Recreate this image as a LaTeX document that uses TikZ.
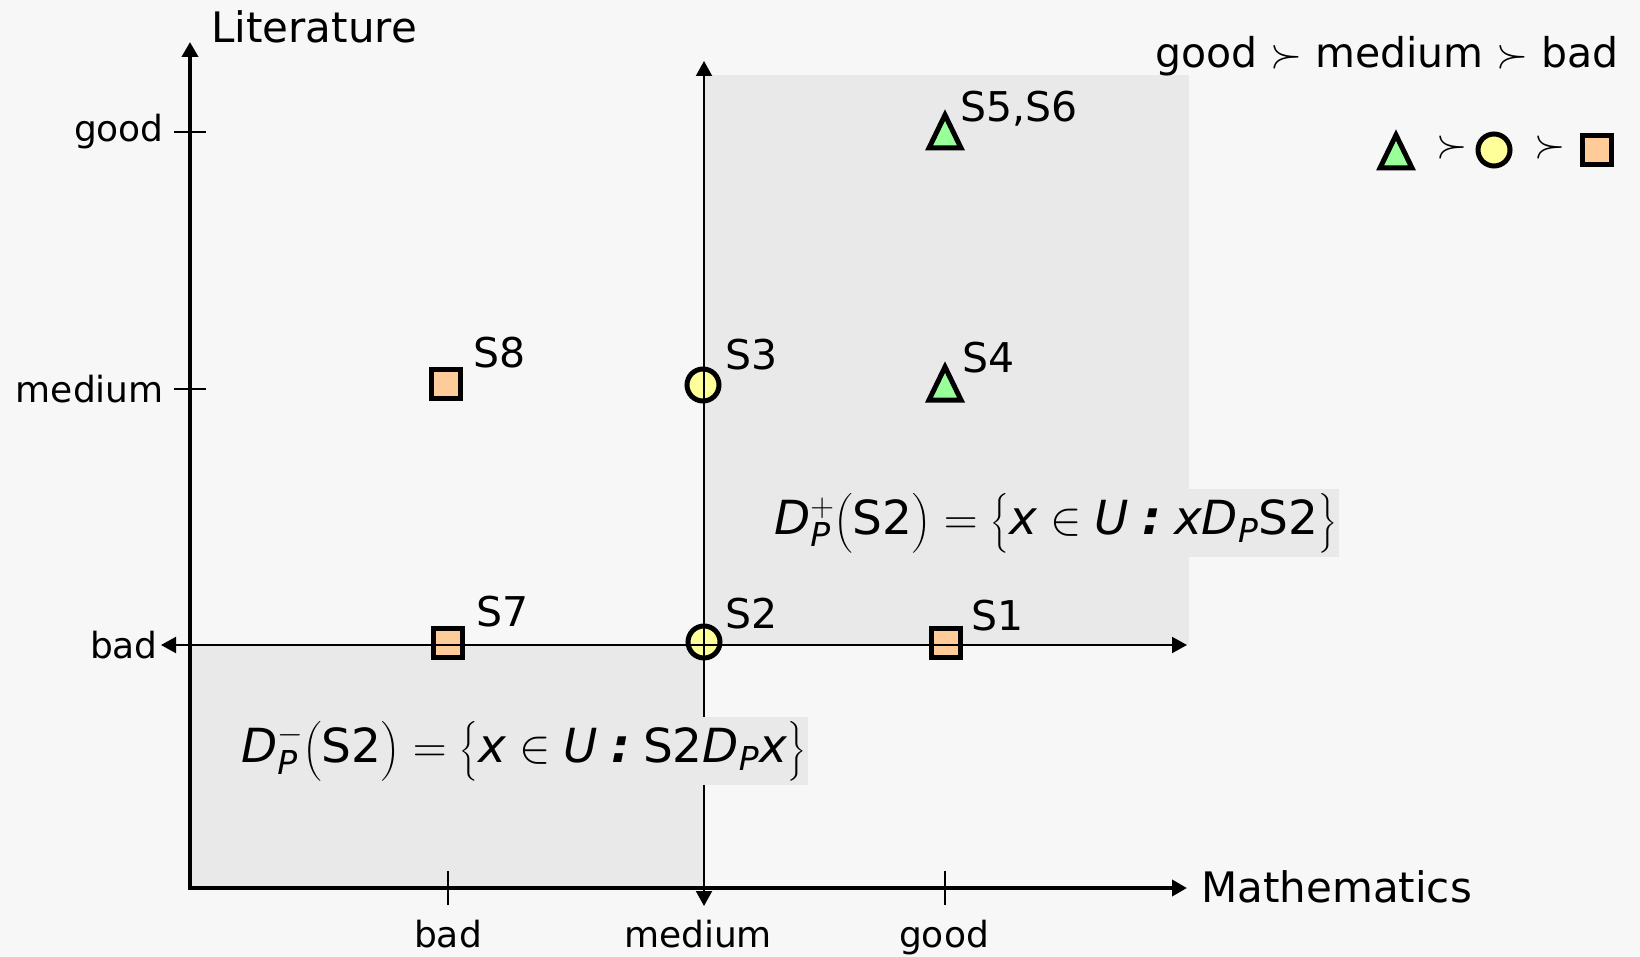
\RequirePackage{fix-cm}
\documentclass[tikz,border=0pt]{standalone}
\usepackage{amsmath}
\usepackage{fontspec}
\setmainfont{DejaVu Sans}
\usetikzlibrary{arrows.meta}
\definecolor{bg}{HTML}{F7F7F7}
\definecolor{reg}{HTML}{E9E9E9}
\definecolor{sqf}{HTML}{FFCC99}
\definecolor{cif}{HTML}{FFFF99}
\definecolor{trf}{HTML}{99FF99}
\newcommand{\fcolon}{\mathrel{\textbf{\textit{:}}}}
\begin{document}
\begin{tikzpicture}[x=1pt,y=-1pt,
  sq/.style={rectangle,draw=black,line width=5pt,fill=sqf,minimum size=29pt,inner sep=0pt},
  ci/.style={circle,draw=black,line width=5pt,fill=cif,minimum size=32pt,inner sep=0pt},
  trs/.style={draw=black,line width=5pt,fill=trf,line join=miter},
  lbl/.style={inner sep=0pt,anchor=base west,font=\fontsize{41}{48}\selectfont},
  tick/.style={inner sep=0pt,font=\fontsize{36}{43}\selectfont},
  title/.style={inner sep=0pt,anchor=base west,font=\fontsize{42}{50}\selectfont},
  formula/.style={fill=reg,inner xsep=2pt,inner ysep=0pt,anchor=east,minimum height=68pt,font=\fontsize{47}{54}\selectfont},
  thinaxis/.style={line width=2pt,{Triangle[length=15pt,width=16pt]}-{Triangle[length=15pt,width=16pt]}},
  thickaxis/.style={line width=4pt,line join=miter,{Triangle[length=15pt,width=16pt]}-{Triangle[length=15pt,width=16pt]}},
  tickline/.style={line width=2pt}
]
% background and regions
\fill[bg] (0,0) rectangle (1640,957);
\fill[reg] (704,75) rectangle (1189,645);
\fill[reg] (190,645) rectangle (704,888);

% axis coordinates
\coordinate (O) at (190,888);
\coordinate (ytop) at (190,42);
\coordinate (xend) at (1187,888);
\coordinate (mtop) at (704,61);
\coordinate (mbot) at (704,906);
\coordinate (hl) at (161,645);
\coordinate (hr) at (1187,645);

% markers
\node[sq] (s8) at (446,384) {};
\node[ci] (s3) at (703,385) {};
\node[sq] (s7) at (448,643) {};
\node[ci] (s2) at (704,642) {};
\node[sq] (s1) at (946,643) {};
\coordinate (s4) at (945,382);
\coordinate (s56) at (945,130);
\draw[trs] (s4) ++(0,-15) -- ++(16,33) -- ++(-32,0) -- cycle;
\draw[trs] (s56) ++(0,-15) -- ++(16,33) -- ++(-32,0) -- cycle;

% thin axes through S2
\draw[thinaxis] (mtop) -- (mbot);
\draw[thinaxis] (hl) -- (hr);

% main axes
\draw[thickaxis] (ytop) -- (O) -- (xend);

% ticks
\coordinate (tg1) at (174,132); \coordinate (tg2) at (206,132);
\coordinate (tm1) at (174,389); \coordinate (tm2) at (206,389);
\coordinate (tb1) at (448,871); \coordinate (tb2) at (448,905);
\coordinate (tx1) at (945,871); \coordinate (tx2) at (945,905);
\draw[tickline] (tg1) -- (tg2);
\draw[tickline] (tm1) -- (tm2);
\draw[tickline] (tb1) -- (tb2);
\draw[tickline] (tx1) -- (tx2);

% tick labels
\node[tick,anchor=east] (ygood) at (164,132) {good};
\node[tick,anchor=east] (ymed) at (164,389) {medium};
\node[tick,anchor=east] (ybad) at (158,645) {bad};
\node[tick,anchor=north] (xbad) at (448,920) {bad};
\node[tick,anchor=north] (xmed) at (698,920) {medium};
\node[tick,anchor=north] (xgood) at (944,920) {good};

% axis titles
\node[title] (lit) at (211,43) {Literature};
\node[title] (math) at (1201,902) {Mathematics};

% point labels
\node[lbl] (l8) at (473,367) {S8};
\node[lbl] (l3) at (725,369) {S3};
\node[lbl] (l4) at (962,372) {S4};
\node[lbl] (l56) at (960,122) {S5,S6};
\node[lbl] (l7) at (476,626) {S7};
\node[lbl] (l2) at (725,628) {S2};
\node[lbl] (l1) at (971,630) {S1};

% formulas
\node[formula] (dplus) at (1339,523)
  {$\mathit{D}^{+}_{\mathit{P}}\bigl(\mathrm{S2}\bigr) = \bigl\{\mathit{x} \in \mathit{U} \fcolon \mathit{x}\mathit{D}_{\mathit{P}}\mathrm{S2}\bigr\}$};
\node[formula] (dminus) at (808,751)
  {$\mathit{D}^{-}_{\mathit{P}}\bigl(\mathrm{S2}\bigr) = \bigl\{\mathit{x} \in \mathit{U} \fcolon \mathrm{S2}\mathit{D}_{\mathit{P}}\mathit{x}\bigr\}$};

% legend
\node[inner sep=0pt,anchor=base east,font=\fontsize{41}{48}\selectfont] (order) at (1619,68) {good $\succ$ medium $\succ$ bad};
\coordinate (lt) at (1396,150);
\draw[trs] (lt) ++(0,-15) -- ++(16,33) -- ++(-32,0) -- cycle;
\node[inner sep=0pt,font=\fontsize{40}{48}\selectfont] (g1) at (1452,148) {$\succ$};
\node[ci] (lc) at (1494,150) {};
\node[inner sep=0pt,font=\fontsize{40}{48}\selectfont] (g2) at (1550,148) {$\succ$};
\node[sq] (ls) at (1597,150) {};
\end{tikzpicture}
\end{document}
